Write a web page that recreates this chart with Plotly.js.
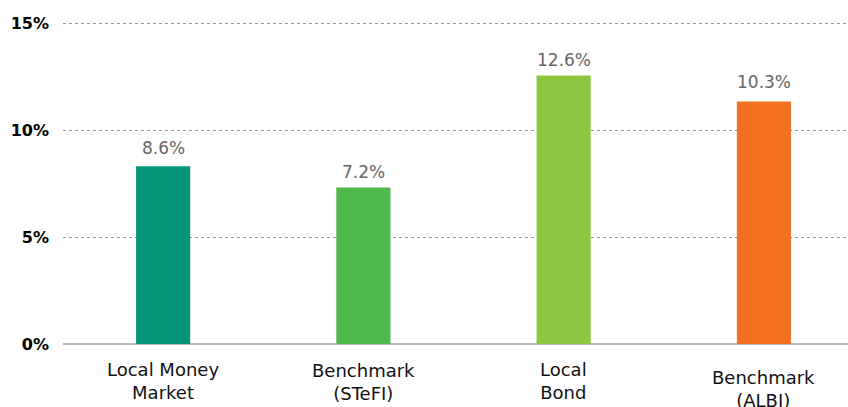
<!DOCTYPE html>
<html>
<head>
<meta charset="utf-8">
<script src="https://cdn.plot.ly/plotly-3.0.1.min.js"></script>
<style>html,body{margin:0;padding:0;background:#fff;}#chart{width:848px;height:407px;}</style>
</head>
<body>
<div id="chart"></div>
<script>
const categories = ["Local Money<br>Market", "Benchmark<br>(STeFI)", "Local<br>Bond", "Benchmark<br>(ALBI)"];
const barValues = [8.31, 7.31, 12.55, 11.33];
const valueLabels = ["8.6%", "7.2%", "12.6%", "10.3%"];
const barColors = ["#03967a", "#4fb84b", "#8dc63f", "#f37021"];
const yTickVals = [0, 5, 10, 15];
const yTickText = ["0%", "5%", "10%", "15%"];

const labelShift = [18, 16, 15, 20];
const catLabelY = [369, 370, 369, 377];

const idx = categories.map((_, i) => i);

const trace = {
  type: "bar",
  x: idx,
  y: barValues,
  width: 0.27,
  marker: {color: barColors},
  hoverinfo: "skip"
};

const plotTop = 20, plotBottomMargin = 63;
const plotH = 407 - plotTop - plotBottomMargin;

const annotations = [];
idx.forEach(i => {
  annotations.push({
    x: i, y: barValues[i], xref: "x", yref: "y",
    text: valueLabels[i], showarrow: false,
    yanchor: "middle", yshift: labelShift[i],
    font: {family: "DejaVu Sans", size: 17, color: "#666666"}
  });
  annotations.push({
    x: i, y: 1 - ((catLabelY[i] - 12) - plotTop) / plotH, xref: "x", yref: "paper",
    text: categories[i], showarrow: false,
    yanchor: "top",
    font: {family: "DejaVu Sans", size: 18, color: "#111111"}
  });
});

const layout = {
  width: 848, height: 407,
  margin: {l: 63, r: 0, t: plotTop, b: plotBottomMargin},
  paper_bgcolor: "#ffffff", plot_bgcolor: "#ffffff",
  showlegend: false,
  xaxis: {
    range: [-0.5, 3.42],
    showticklabels: false, showgrid: false, zeroline: false,
    ticks: "", fixedrange: true
  },
  yaxis: {
    range: [0, plotH / 21.4],
    tickvals: yTickVals, ticktext: yTickText,
    tickfont: {family: "DejaVu Sans", size: 16, color: "#000000", weight: "bold"},
    showgrid: true, gridcolor: "#999999", griddash: "dot", gridwidth: 1,
    zeroline: true, zerolinecolor: "#bbbbbb", zerolinewidth: 2,
    ticks: "", ticklen: 0, ticklabelstandoff: 13, fixedrange: true
  },
  annotations: annotations
};

Plotly.newPlot("chart", [trace], layout, {displayModeBar: false, staticPlot: true});
</script>
</body>
</html>
